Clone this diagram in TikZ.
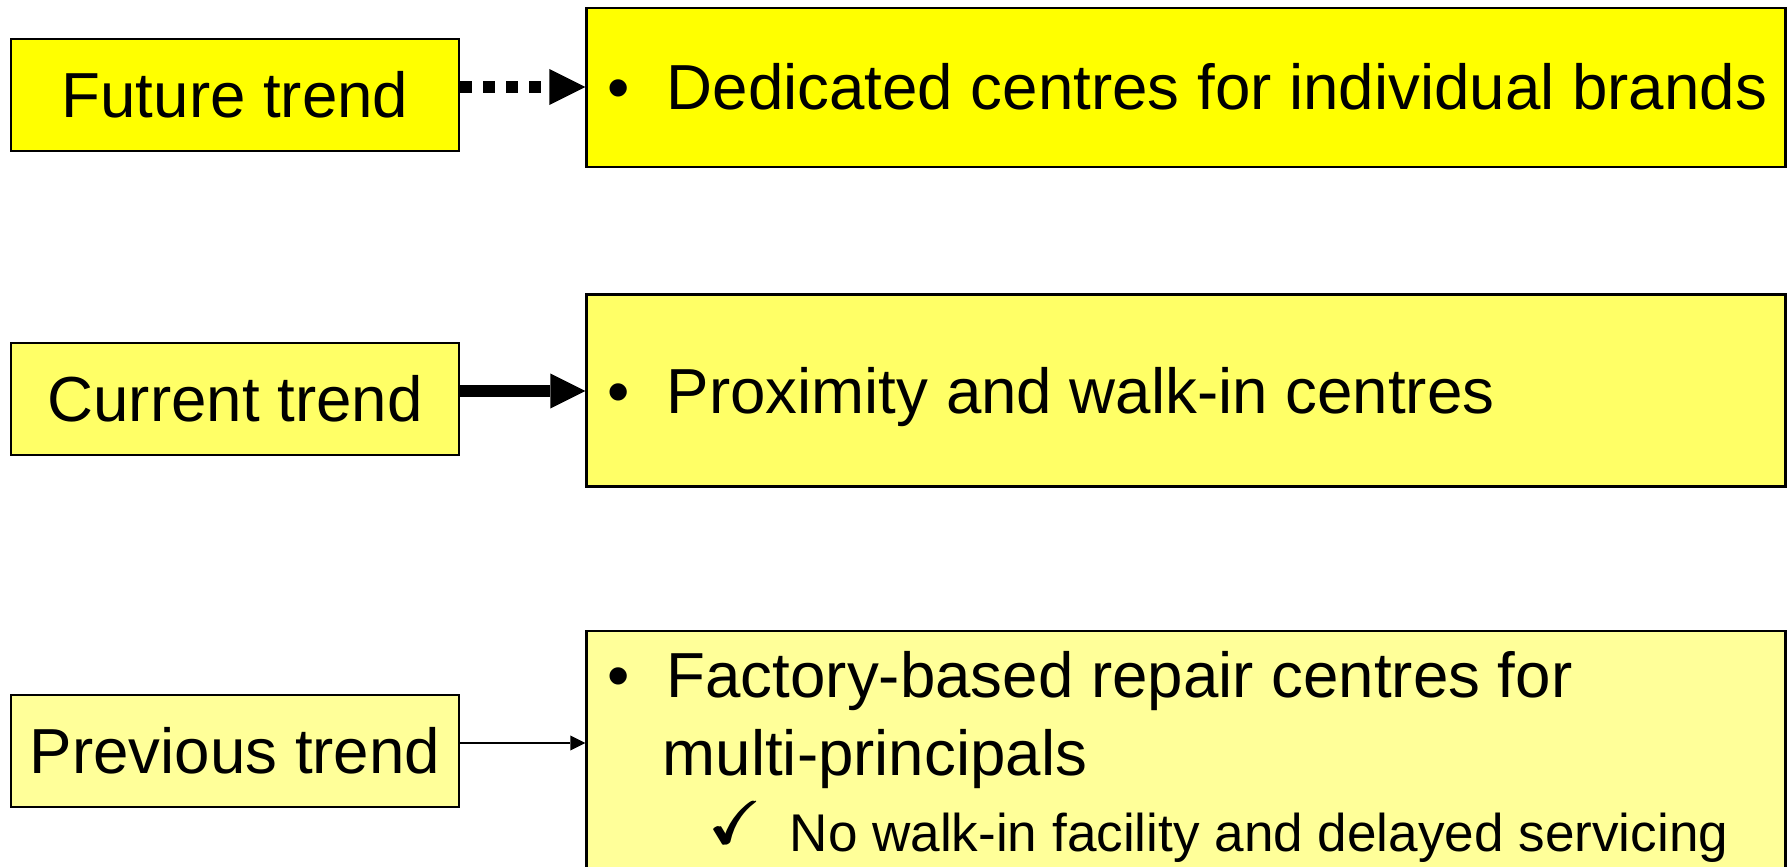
\documentclass[tikz,border=0pt]{standalone}
\usepackage{amssymb}
\usepackage{fontspec}
\setmainfont{Liberation Sans}
\usetikzlibrary{arrows.meta}

\definecolor{futurefill}{RGB}{255,255,0}
\definecolor{currentfill}{RGB}{255,255,102}
\definecolor{previousfill}{RGB}{255,255,153}

% a heavier check mark built from overlapping strokes
\newcommand{\heavycheck}{\rlap{$\checkmark$}\kern0.35pt\rlap{$\checkmark$}\kern0.35pt$\checkmark$}

\tikzset{
  box/.style={draw, line width=0.7pt, inner sep=0pt, rectangle},
  trendbox/.style={box, minimum width=4.48cm, minimum height=1.12cm,
    font=\fontsize{18.1}{22}\selectfont},
  infobox/.style={box, minimum width=11.98cm},
  itemtext/.style={anchor=base west, inner sep=0pt, font=\fontsize{18.1}{22}\selectfont},
  subtext/.style={anchor=base west, inner sep=0pt, font=\fontsize{15.1}{18}\selectfont},
  checktext/.style={anchor=base west, inner sep=0pt, font=\fontsize{17.2}{20}\selectfont},
  dottedlink/.style={line width=0.12cm, dash pattern=on 0.12cm off 0.11cm,
    -{Triangle[length=0.36cm, width=0.36cm, line width=0pt]}},
  thicklink/.style={line width=0.12cm,
    -{Triangle[length=0.35cm, width=0.35cm, line width=0pt]}},
  thinlink/.style={line width=0.57pt,
    -{Triangle[length=0.15cm, width=0.15cm, line width=0pt]}}
}

\begin{document}
\begin{tikzpicture}[x=0.01cm, y=-0.01cm]
  \useasboundingbox (0,0) rectangle (1791,867);
  \path[clip] (0,0) rectangle (1791,867);

  % trend labels on the left
  \node[trendbox, fill=futurefill]   (fut)  at (235,95)  {Future trend};
  \node[trendbox, fill=currentfill]  (cur)  at (235,399) {Current trend};
  \node[trendbox, fill=previousfill] (prev) at (235,751) {Previous trend};

  % description panels on the right
  \node[infobox, fill=futurefill,   minimum height=1.59cm] (ded)  at (1186,87.5)  {};
  \node[infobox, fill=currentfill,  minimum height=1.92cm] (prox) at (1186,390.5) {};
  \node[infobox, fill=previousfill, minimum height=2.80cm] (fac)  at (1186,771)   {};

  % connectors
  \coordinate (futout)  at ([yshift=0.08cm]fut.east);
  \coordinate (curout)  at ([yshift=0.08cm]cur.east);
  \coordinate (prevout) at ([yshift=0.08cm]prev.east);
  \draw[dottedlink] (futout)  -- (futout -| ded.west);
  \draw[thicklink]  (curout)  -- (curout -| prox.west);
  \draw[thinlink]   (prevout) -- (prevout -| fac.west);

  % panel texts
  \node[itemtext] (dedbul)  at (607,110) {•};
  \node[itemtext] (dedtxt)  at (666,110) {Dedicated centres for individual brands};

  \node[itemtext] (proxbul) at (607,413) {•};
  \node[itemtext] (proxtxt) at (666,413) {Proximity and walk-in centres};

  \node[itemtext] (facbul)  at (607,697) {•};
  \node[itemtext] (factxt)  at (666,697) {Factory-based repair centres for};
  \node[itemtext] (factxtb) at (662,775) {multi-principals};
  \node[checktext] (faccheck) at (708,843) {\heavycheck};
  \node[subtext]  (facsub)  at (789,851) {No walk-in facility and delayed servicing};
\end{tikzpicture}
\end{document}
